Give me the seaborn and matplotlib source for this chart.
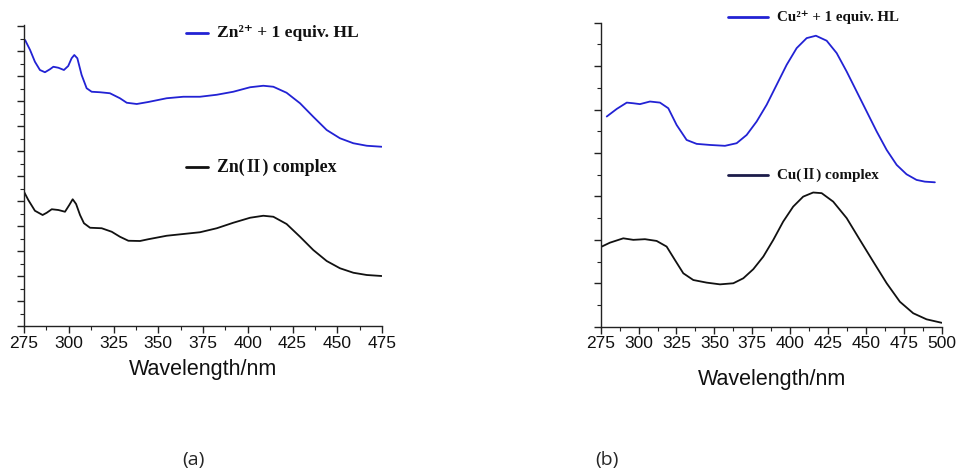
import matplotlib
matplotlib.use("Agg")
import matplotlib.pyplot as plt
import seaborn as sns
from matplotlib.lines import Line2D
from matplotlib.ticker import MultipleLocator

# ---------------- data (arbitrary absorbance units) ----------------
zn_hl_wl = [275.6, 278.4, 281.1, 283.9, 286.7, 289.5, 291.4, 294.2, 297.3, 299.7, 301.6, 303.1,
            304.8, 307.2, 310.0, 312.8, 317.5, 323.0, 328.6, 332.4, 338.0, 344.4, 354.7, 364.0,
            373.3, 382.7, 391.9, 401.3, 408.7, 414.3, 421.7, 429.2, 436.6, 444.1, 451.5, 459.0,
            466.5, 474.8]
zn_hl_abs = [11.44, 11.04, 10.57, 10.24, 10.15, 10.27, 10.37, 10.33, 10.24, 10.40, 10.71, 10.84,
             10.71, 10.04, 9.51, 9.37, 9.35, 9.31, 9.11, 8.93, 8.88, 8.96, 9.11, 9.17,
             9.17, 9.25, 9.37, 9.55, 9.61, 9.57, 9.33, 8.91, 8.37, 7.84, 7.51, 7.31,
             7.21, 7.17]

zn_cx_wl = [275.0, 277.4, 281.1, 285.4, 287.7, 290.5, 294.2, 297.9, 300.3, 302.2, 304.1, 306.3,
            308.5, 311.9, 318.4, 324.0, 328.6, 333.3, 339.8, 344.4, 354.7, 364.0, 373.3, 382.7,
            391.9, 401.3, 408.7, 414.3, 421.7, 429.2, 436.6, 444.1, 451.5, 459.0, 466.5, 474.8]
zn_cx_abs = [5.37, 5.04, 4.61, 4.44, 4.53, 4.67, 4.64, 4.57, 4.84, 5.07, 4.88, 4.44,
             4.11, 3.93, 3.91, 3.77, 3.57, 3.41, 3.40, 3.47, 3.61, 3.68, 3.75, 3.91,
             4.13, 4.33, 4.41, 4.37, 4.08, 3.57, 3.04, 2.60, 2.31, 2.13, 2.04, 2.00]

cu_hl_wl = [279.0, 285.6, 292.2, 296.5, 300.9, 307.5, 314.1, 319.6, 325.1, 331.7, 338.3, 347.1,
            357.0, 364.7, 371.3, 377.9, 384.5, 391.1, 397.7, 404.3, 410.9, 417.0, 424.1, 430.7,
            437.3, 443.9, 450.5, 457.1, 463.7, 470.3, 476.8, 483.4, 488.9, 495.5]
cu_hl_abs = [9.68, 10.03, 10.32, 10.29, 10.25, 10.37, 10.32, 10.06, 9.29, 8.60, 8.42, 8.37,
             8.33, 8.45, 8.83, 9.45, 10.22, 11.14, 12.06, 12.83, 13.29, 13.40, 13.17, 12.60,
             11.75, 10.83, 9.91, 8.99, 8.14, 7.45, 7.02, 6.76, 6.68, 6.65]

cu_cx_wl = [275.7, 281.1, 289.9, 296.5, 304.2, 311.9, 318.5, 324.0, 329.5, 336.1, 344.9, 353.7,
            362.5, 369.1, 375.7, 382.3, 388.9, 395.4, 402.0, 408.6, 415.2, 420.8, 428.4, 437.3,
            446.0, 454.8, 463.7, 472.4, 481.2, 490.0, 500.0]
cu_cx_abs = [3.69, 3.87, 4.07, 4.00, 4.03, 3.95, 3.69, 3.07, 2.46, 2.15, 2.03, 1.95,
             2.00, 2.23, 2.65, 3.23, 4.00, 4.84, 5.53, 5.99, 6.18, 6.15, 5.76, 5.00,
             4.00, 3.00, 2.00, 1.15, 0.62, 0.34, 0.18]

zn_hl_label = "Zn²⁺ + 1 equiv. HL"
zn_cx_label = "Zn(Ⅱ) complex"
cu_hl_label = "Cu²⁺ + 1 equiv. HL"
cu_cx_label = "Cu(Ⅱ) complex"
x_label = "Wavelength/nm"
xticks_a = [275, 300, 325, 350, 375, 400, 425, 450, 475]
xticks_b = [275, 300, 325, 350, 375, 400, 425, 450, 475, 500]

# ---------------- figure ----------------
sns.set_theme(style="ticks")
plt.rcParams['font.family'] = ['Liberation Sans', 'DejaVu Sans']

W, H = 957, 472
fig = plt.figure(figsize=(W / 100, H / 100), dpi=100)
fig.patch.set_facecolor("white")

def fx(px):
    return px / W

def fy(py):
    return 1 - py / H

ax_a = fig.add_axes([fx(24), fy(326), (382 - 24) / W, (326 - 25) / H])
ax_b = fig.add_axes([fx(600.7), fy(326.7), (941.7 - 600.7) / W, (326.7 - 22.7) / H])

blue = "#2222d4"
black = "#111111"

sns.lineplot(x=zn_hl_wl, y=zn_hl_abs, ax=ax_a, color=blue, lw=1.3)
sns.lineplot(x=zn_cx_wl, y=zn_cx_abs, ax=ax_a, color=black, lw=1.3)
sns.lineplot(x=cu_hl_wl, y=cu_hl_abs, ax=ax_b, color=blue, lw=1.3)
sns.lineplot(x=cu_cx_wl, y=cu_cx_abs, ax=ax_b, color=black, lw=1.3)

for ax, xt, xmax, ymax, ymaj in [(ax_a, xticks_a, 475, 12.04, 1.0), (ax_b, xticks_b, 500, 14.0, 2.0)]:
    ax.set_xlim(275, xmax)
    ax.set_ylim(0, ymax)
    ax.set_facecolor("white")
    for s in ["top", "right"]:
        ax.spines[s].set_visible(False)
    for s in ["left", "bottom"]:
        ax.spines[s].set_color("#222222")
        ax.spines[s].set_linewidth(1.0)
    ax.set_xticks(xt)
    ax.set_xticklabels([str(v) for v in xt], fontsize=12.5, color="#111111")
    ax.xaxis.set_minor_locator(MultipleLocator(12.5))
    ax.yaxis.set_major_locator(MultipleLocator(ymaj))
    ax.yaxis.set_minor_locator(MultipleLocator(ymaj / 2))
    ax.set_yticklabels([])
    ax.tick_params(axis="both", which="major", direction="out", length=5, width=1.0, color="#222222", pad=2)
    ax.tick_params(axis="both", which="minor", direction="out", length=3, width=0.8, color="#222222")
    ax.set_xlabel("")
    ax.set_ylabel("")
    ax.grid(False)

fig.text(fx(203), fy(370), x_label, fontsize=15.5, ha="center", va="center", color="#111111")
fig.text(fx(772), fy(380), x_label, fontsize=15.5, ha="center", va="center", color="#111111")

serif = ['Liberation Serif', 'Noto Serif CJK SC', 'Noto Sans CJK SC', 'DejaVu Serif']
def legend_entry(x0, x1, y, color, label, tx, fs):
    fig.add_artist(Line2D([fx(x0), fx(x1)], [fy(y), fy(y)], color=color, lw=2.0, transform=fig.transFigure))
    fig.text(fx(tx), fy(y), label, fontsize=fs, fontweight="bold", family=serif,
             ha="left", va="center", color="#111111")

legend_entry(186, 208, 33, blue, zn_hl_label, 217, 12.6)
legend_entry(186, 208, 167, black, zn_cx_label, 217, 12.9)
legend_entry(728, 768, 17.3, blue, cu_hl_label, 777, 10.8)
legend_entry(728, 768, 175, "#1c1c4a", cu_cx_label, 777, 10.9)

fig.text(fx(193), fy(460), "(a)", fontsize=14, ha="center", va="center", family=['Open Sans', 'DejaVu Sans'])
fig.text(fx(607), fy(460), "(b)", fontsize=14, ha="center", va="center", family=['Open Sans', 'DejaVu Sans'])

fig.savefig("out.png", dpi=100, facecolor="white")
